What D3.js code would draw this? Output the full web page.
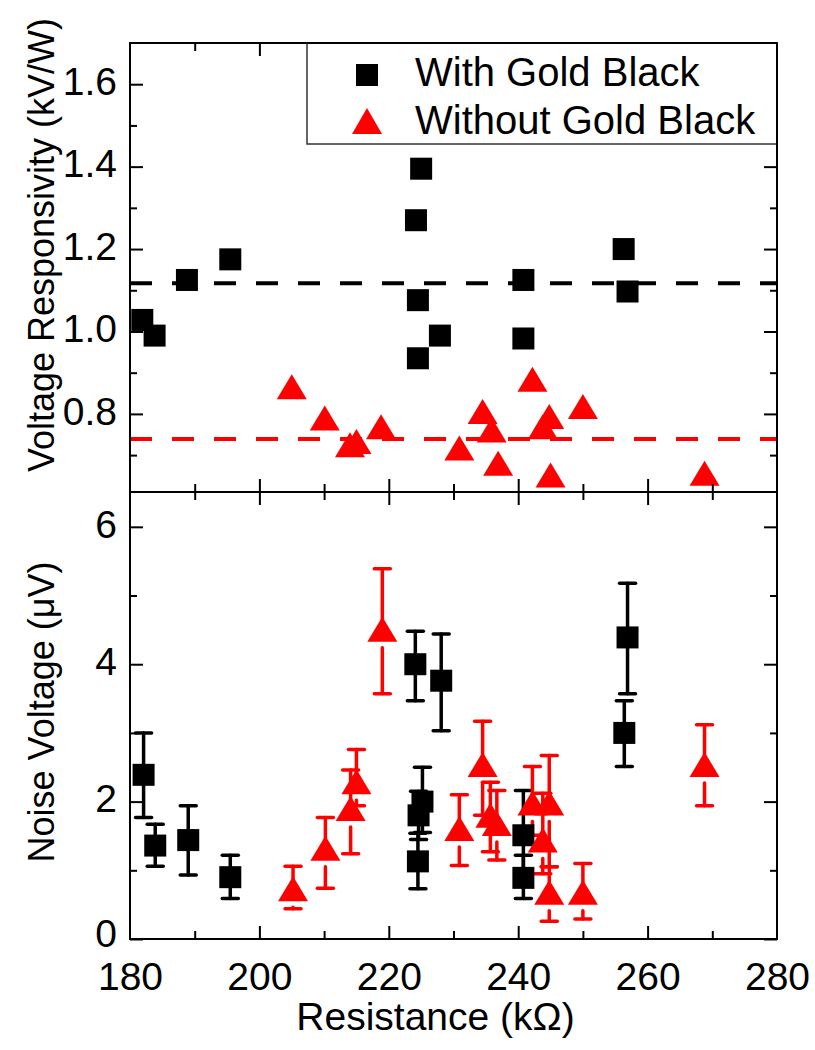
<!DOCTYPE html>
<html>
<head>
<meta charset="utf-8">
<script src="https://cdn.jsdelivr.net/npm/d3@7"></script>
<style>
  html, body { margin: 0; padding: 0; background: #fff; }
  svg { display: block; }
  text { font-family: "Liberation Sans", Arial, sans-serif; fill: #000; }
</style>
</head>
<body>
<svg id="chart" width="815" height="1050"></svg>
<script>
// ---------------- DATA ----------------
const seriesNames = ["With Gold Black", "Without Gold Black"];

// Top panel: Voltage Responsivity (kV/W)
const goldResistance = [181.9, 183.8, 188.8, 195.5, 224.2, 225.0, 224.5, 224.5, 227.9, 240.8, 240.8, 256.3, 256.9];
const goldResponsivity = [1.028, 0.99, 1.125, 1.175, 1.27, 1.395, 1.076, 0.935, 0.99, 1.125, 0.983, 1.20, 1.097];

const bareResistance = [205.0, 210.1, 214.0, 215.0, 218.8, 230.9, 234.5, 235.9, 236.9, 242.2, 243.8, 244.8, 245.0, 250.0, 268.8];
const bareResponsivity = [0.866, 0.79, 0.725, 0.733, 0.769, 0.717, 0.806, 0.761, 0.68, 0.884, 0.769, 0.794, 0.652, 0.818, 0.656];

const goldMeanResponsivity = 1.117;
const bareMeanResponsivity = 0.739;

// Bottom panel: Noise Voltage (uV) with error bars
const goldNoiseR    = [182.1, 183.9, 189.0, 195.5, 224.1, 228.1, 224.6, 225.2, 224.5, 240.8, 240.8, 256.4, 256.9];
const goldNoise     = [2.39, 1.36, 1.44, 0.90, 4.00, 3.76, 1.80, 2.00, 1.13, 1.51, 0.89, 3.00, 4.39];
const goldNoiseLow  = [1.77, 1.06, 0.93, 0.59, 3.47, 3.03, 1.45, 1.55, 0.73, 1.00, 0.59, 2.51, 3.57];
const goldNoiseHigh = [3.00, 1.67, 1.94, 1.22, 4.48, 4.44, 2.15, 2.50, 1.54, 2.16, 1.22, 3.47, 5.18];

const bareNoiseR    = [205.2, 210.2, 214.1, 215.0, 219.0, 230.9, 234.5, 235.7, 236.7, 242.2, 243.8, 244.8, 244.8, 250.0, 268.8];
const bareNoise     = [0.73, 1.32, 1.90, 2.29, 4.51, 1.61, 2.54, 1.80, 1.68, 1.98, 1.44, 1.98, 0.68, 0.68, 2.54];
const bareNoiseLow  = [0.44, 0.74, 1.24, 1.94, 3.57, 1.07, 1.80, 1.27, 1.15, 1.51, 0.95, 1.05, 0.26, 0.29, 1.94];
const bareNoiseHigh = [1.06, 1.77, 2.46, 2.76, 5.39, 2.10, 3.17, 2.28, 2.16, 2.51, 2.12, 2.67, 1.05, 1.10, 3.12];

const xTicks = [180, 200, 220, 240, 260, 280];
const xMinorTicks = [190, 210, 230, 250, 270];
const topYTicks = [0.8, 1.0, 1.2, 1.4, 1.6];
const topYMinorTicks = [0.7, 0.9, 1.1, 1.3, 1.5];
const botYTicks = [0, 2, 4, 6];
const botYMinorTicks = [1, 3, 5];

const xTitle = "Resistance (kΩ)";
const topYTitle = "Voltage Responsivity (kV/W)";
const botYTitle = "Noise Voltage (μV)";

// ---------------- LAYOUT ----------------
const svg = d3.select("#chart");
const L = 130, R = 777;
const topT = 43, midY = 492, botB = 939;
const RED = "#ff0000";
const FONT = 39;

const x = d3.scaleLinear().domain([180, 280]).range([L, R]);
const yTop = d3.scaleLinear().domain([0.6105, 1.7]).range([midY, topT]);
const yBot = d3.scaleLinear().domain([0, 6.507]).range([botB, midY]);

const SQ = 22, TRW = 30, TRH = 25;
function triPath(cx, cy) {
  return `M${cx},${cy - TRH/2}L${cx + TRW/2},${cy + TRH/2}L${cx - TRW/2},${cy + TRH/2}Z`;
}

// ---------- axes helper ----------
function styleAxis(g) {
  g.select(".domain").remove();
  g.selectAll(".tick line").attr("stroke", "#000").attr("stroke-width", 2);
  g.selectAll(".tick text").attr("font-size", FONT).attr("font-family", '"Liberation Sans", Arial, sans-serif').attr("fill", "#000");
}

function panelAxes(y, majors, minors, showX, yTop0, yBot0) {
  // left
  svg.append("g").attr("transform", `translate(${L},0)`)
    .call(d3.axisLeft(y).tickValues(majors).tickSizeInner(-13).tickSizeOuter(0).tickPadding(13).tickFormat(d => (y === yTop ? d3.format(".1f")(d) : d3.format("d")(d))))
    .call(styleAxis)
    .call(g => g.selectAll(".tick text").attr("dy", null).attr("y", null)
      .attr("transform", d => (y === yBot && d === 0) ? "translate(0,7)" : "translate(0,10.2)"));
  svg.append("g").attr("transform", `translate(${L},0)`)
    .call(d3.axisLeft(y).tickValues(minors).tickSizeInner(-7).tickSizeOuter(0).tickFormat(""))
    .call(styleAxis);
  // right
  svg.append("g").attr("transform", `translate(${R},0)`)
    .call(d3.axisRight(y).tickValues(majors).tickSizeInner(-13).tickSizeOuter(0).tickFormat(""))
    .call(styleAxis);
  svg.append("g").attr("transform", `translate(${R},0)`)
    .call(d3.axisRight(y).tickValues(minors).tickSizeInner(-7).tickSizeOuter(0).tickFormat(""))
    .call(styleAxis);
  // top edge (ticks pointing down)
  svg.append("g").attr("transform", `translate(0,${yTop0})`)
    .call(d3.axisTop(x).tickValues(xTicks.slice(1, -1)).tickSizeInner(-13).tickSizeOuter(0).tickFormat(""))
    .call(styleAxis);
  svg.append("g").attr("transform", `translate(0,${yTop0})`)
    .call(d3.axisTop(x).tickValues(xMinorTicks).tickSizeInner(-8).tickSizeOuter(0).tickFormat(""))
    .call(styleAxis);
  // bottom edge (ticks pointing up)
  const bx = svg.append("g").attr("transform", `translate(0,${yBot0})`)
    .call(d3.axisBottom(x).tickValues(showX ? xTicks : xTicks.slice(1, -1)).tickSizeInner(-13).tickSizeOuter(0).tickPadding(23.3).tickFormat(showX ? d3.format("d") : ""))
    .call(styleAxis);
  if (showX) bx.selectAll(".tick line").filter(d => d === 180 || d === 280).remove();
  svg.append("g").attr("transform", `translate(0,${yBot0})`)
    .call(d3.axisBottom(x).tickValues(xMinorTicks).tickSizeInner(-8).tickSizeOuter(0).tickFormat(""))
    .call(styleAxis);
  // frame
  svg.append("rect").attr("x", L).attr("y", yTop0).attr("width", R - L).attr("height", yBot0 - yTop0)
    .attr("fill", "none").attr("stroke", "#000").attr("stroke-width", 2);
}

// ---------------- TOP PANEL ----------------
const topG = svg.append("g");
// mean lines
topG.append("line").attr("x1", L).attr("x2", R).attr("y1", yTop(goldMeanResponsivity)).attr("y2", yTop(goldMeanResponsivity))
  .attr("stroke", "#000").attr("stroke-width", 4).attr("stroke-dasharray", "22,20");
topG.append("line").attr("x1", L).attr("x2", R).attr("y1", yTop(bareMeanResponsivity)).attr("y2", yTop(bareMeanResponsivity))
  .attr("stroke", RED).attr("stroke-width", 4).attr("stroke-dasharray", "22,20");

topG.selectAll("rect.gold").data(d3.zip(goldResistance, goldResponsivity)).join("rect")
  .attr("class", "gold")
  .attr("x", d => x(d[0]) - SQ/2).attr("y", d => yTop(d[1]) - SQ/2)
  .attr("width", SQ).attr("height", SQ).attr("fill", "#000");
topG.selectAll("path.bare").data(d3.zip(bareResistance, bareResponsivity)).join("path")
  .attr("class", "bare")
  .attr("d", d => triPath(x(d[0]), yTop(d[1]))).attr("fill", RED);

panelAxes(yTop, topYTicks, topYMinorTicks, false, topT, midY);

// legend
const lg = svg.append("g");
lg.append("rect").attr("x", 307).attr("y", topT).attr("width", R - 307).attr("height", 144 - topT)
  .attr("fill", "#fff").attr("stroke", "#333").attr("stroke-width", 1.5);
lg.append("rect").attr("x", 367 - SQ/2).attr("y", 75 - SQ/2).attr("width", SQ).attr("height", SQ).attr("fill", "#000");
lg.append("path").attr("d", `M367,${108}L382,${134}L352,${134}Z`).attr("fill", RED);
lg.append("text").attr("x", 415).attr("y", 86).attr("font-size", 40).text(seriesNames[0]);
lg.append("text").attr("x", 415).attr("y", 134).attr("font-size", 40).text(seriesNames[1]);
// redraw right/top edges over legend
svg.append("line").attr("x1", R).attr("x2", R).attr("y1", topT).attr("y2", midY).attr("stroke", "#000").attr("stroke-width", 2);
svg.append("line").attr("x1", 307).attr("x2", R).attr("y1", topT).attr("y2", topT).attr("stroke", "#000").attr("stroke-width", 2);

// ---------------- BOTTOM PANEL ----------------
const botG = svg.append("g");
const CAP = 8;
const goldRows = goldNoiseR.map((r, i) => ({ r, v: goldNoise[i], lo: goldNoiseLow[i], hi: goldNoiseHigh[i] }));
const bareRows = bareNoiseR.map((r, i) => ({ r, v: bareNoise[i], lo: bareNoiseLow[i], hi: bareNoiseHigh[i] }));

function drawBars(rows, color, isTri) {
  const g = botG.append("g").attr("stroke", color).attr("stroke-width", 3.5).attr("stroke-linecap", "round").attr("fill", "none");
  rows.forEach(d => {
    const cx = x(d.r), cy = yBot(d.v), yh = yBot(d.hi), yl = yBot(d.lo);
    g.append("line").attr("x1", cx).attr("x2", cx).attr("y1", yh).attr("y2", cy);
    const startLow = isTri ? cy + TRH/2 + 6 : cy;
    if (yl > startLow) g.append("line").attr("x1", cx).attr("x2", cx).attr("y1", startLow).attr("y2", yl);
    g.append("line").attr("x1", cx - CAP).attr("x2", cx + CAP).attr("y1", yh).attr("y2", yh);
    g.append("line").attr("x1", cx - CAP).attr("x2", cx + CAP).attr("y1", yl).attr("y2", yl);
  });
}
drawBars(goldRows, "#000", false);
drawBars(bareRows, RED, true);

botG.selectAll("rect.gold").data(goldRows).join("rect")
  .attr("class", "gold")
  .attr("x", d => x(d.r) - SQ/2).attr("y", d => yBot(d.v) - SQ/2)
  .attr("width", SQ).attr("height", SQ).attr("fill", "#000");
botG.selectAll("path.bare").data(bareRows).join("path")
  .attr("class", "bare")
  .attr("d", d => triPath(x(d.r), yBot(d.v))).attr("fill", RED);

panelAxes(yBot, botYTicks, botYMinorTicks, true, midY, botB);

// ---------------- TITLES ----------------
svg.append("text").attr("x", (L + R) / 2 - 18).attr("y", 1030).attr("text-anchor", "middle")
  .attr("font-size", 39).text(xTitle);
svg.append("text").attr("transform", `translate(54,${245}) rotate(-90)`).attr("text-anchor", "middle")
  .attr("font-size", 36).text(topYTitle);
svg.append("text").attr("transform", `translate(54,${712}) rotate(-90)`).attr("text-anchor", "middle")
  .attr("font-size", 36).text(botYTitle);
</script>
</body>
</html>
